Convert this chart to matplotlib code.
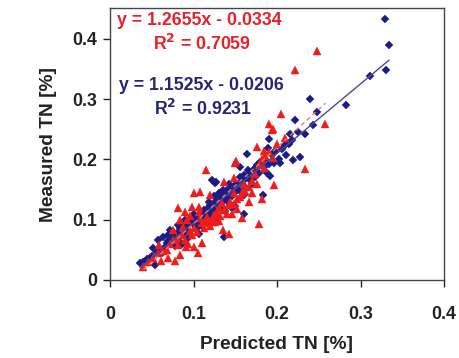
import numpy as np
import matplotlib
matplotlib.use("Agg")
import matplotlib.pyplot as plt

plt.rcParams['font.family'] = ['Liberation Sans', 'DejaVu Sans']
plt.rcParams['font.weight'] = 'bold'

# Calibration set (blue diamonds): predicted vs measured TN
blue_pred = [0.329, 0.334, 0.331, 0.311, 0.283, 0.240, 0.248, 0.243, 0.234, 0.225,
             0.216, 0.222, 0.209, 0.191, 0.189, 0.164, 0.194, 0.211, 0.219, 0.228,
             0.196, 0.204, 0.156, 0.165, 0.188, 0.192, 0.161, 0.170, 0.126, 0.130,
             0.140, 0.160, 0.183, 0.112, 0.120, 0.132, 0.150, 0.160, 0.098, 0.136,
             0.072, 0.084, 0.088, 0.106, 0.064, 0.058, 0.052, 0.048, 0.036, 0.054,
             0.062, 0.068, 0.040, 0.044, 0.050, 0.056, 0.060, 0.066, 0.070, 0.074,
             0.078, 0.080, 0.082, 0.086, 0.090, 0.092, 0.094, 0.096, 0.100, 0.102,
             0.104, 0.106, 0.108, 0.110, 0.112, 0.114, 0.116, 0.118, 0.120, 0.122,
             0.124, 0.126, 0.128, 0.130, 0.132, 0.134, 0.136, 0.138, 0.140, 0.142,
             0.144, 0.146, 0.148, 0.150, 0.152, 0.154, 0.156, 0.158, 0.160, 0.162,
             0.166, 0.168, 0.172, 0.174, 0.176, 0.178, 0.180, 0.184, 0.186, 0.190,
             0.198, 0.202, 0.206, 0.214, 0.218, 0.104, 0.110, 0.118, 0.094, 0.086,
             0.078, 0.100, 0.090, 0.082, 0.076, 0.070, 0.118, 0.124, 0.142, 0.128,
             0.146, 0.138, 0.122, 0.127, 0.135]
blue_meas = [0.432, 0.389, 0.348, 0.338, 0.290, 0.300, 0.278, 0.257, 0.242, 0.245,
             0.242, 0.266, 0.224, 0.234, 0.219, 0.209, 0.207, 0.207, 0.199, 0.204,
             0.194, 0.194, 0.187, 0.182, 0.177, 0.172, 0.174, 0.160, 0.161, 0.144,
             0.149, 0.141, 0.141, 0.116, 0.124, 0.130, 0.122, 0.109, 0.100, 0.071,
             0.083, 0.086, 0.077, 0.077, 0.072, 0.066, 0.053, 0.036, 0.028, 0.025,
             0.044, 0.061, 0.030, 0.034, 0.040, 0.046, 0.052, 0.055, 0.064, 0.068,
             0.072, 0.078, 0.066, 0.092, 0.084, 0.090, 0.080, 0.094, 0.092, 0.104,
             0.098, 0.108, 0.096, 0.104, 0.110, 0.100, 0.118, 0.108, 0.112, 0.120,
             0.128, 0.116, 0.134, 0.124, 0.140, 0.120, 0.132, 0.142, 0.136, 0.128,
             0.150, 0.140, 0.156, 0.146, 0.160, 0.150, 0.170, 0.164, 0.156, 0.168,
             0.176, 0.166, 0.184, 0.170, 0.190, 0.178, 0.196, 0.188, 0.200, 0.192,
             0.214, 0.200, 0.218, 0.226, 0.232, 0.086, 0.090, 0.096, 0.070, 0.060,
             0.056, 0.110, 0.100, 0.092, 0.080, 0.074, 0.130, 0.140, 0.160, 0.102,
             0.120, 0.114, 0.166, 0.162, 0.150]

# Validation set (red triangles)
red_pred = [0.248, 0.221, 0.205, 0.191, 0.195, 0.258, 0.176, 0.194, 0.185, 0.195,
            0.233, 0.151, 0.150, 0.115, 0.184, 0.149, 0.196, 0.136, 0.100, 0.108,
            0.120, 0.148, 0.158, 0.182, 0.081, 0.098, 0.107, 0.142, 0.158, 0.179,
            0.090, 0.092, 0.108, 0.114, 0.118, 0.130, 0.135, 0.142, 0.076, 0.110,
            0.101, 0.105, 0.091, 0.082, 0.084, 0.078, 0.070, 0.068, 0.059, 0.040,
            0.061, 0.046, 0.052, 0.058, 0.064, 0.072, 0.076, 0.080, 0.086, 0.090,
            0.096, 0.100, 0.104, 0.110, 0.112, 0.116, 0.122, 0.124, 0.128, 0.132,
            0.136, 0.140, 0.144, 0.148, 0.152, 0.156, 0.162, 0.166, 0.170, 0.174,
            0.178, 0.182, 0.186, 0.190, 0.200, 0.210, 0.120, 0.126, 0.094, 0.098,
            0.088, 0.084, 0.096, 0.106, 0.134, 0.130, 0.146, 0.152, 0.166, 0.170,
            0.160, 0.176]
red_meas = [0.380, 0.349, 0.276, 0.259, 0.250, 0.259, 0.221, 0.248, 0.214, 0.203,
            0.184, 0.198, 0.194, 0.182, 0.185, 0.169, 0.158, 0.163, 0.144, 0.146,
            0.141, 0.144, 0.144, 0.135, 0.120, 0.121, 0.121, 0.124, 0.102, 0.093,
            0.113, 0.100, 0.102, 0.097, 0.094, 0.097, 0.083, 0.076, 0.083, 0.061,
            0.055, 0.045, 0.054, 0.058, 0.041, 0.032, 0.036, 0.050, 0.058, 0.022,
            0.032, 0.030, 0.036, 0.044, 0.048, 0.060, 0.066, 0.070, 0.074, 0.066,
            0.082, 0.086, 0.080, 0.094, 0.086, 0.104, 0.100, 0.108, 0.112, 0.106,
            0.116, 0.110, 0.130, 0.126, 0.134, 0.138, 0.148, 0.154, 0.164, 0.176,
            0.190, 0.200, 0.206, 0.212, 0.226, 0.236, 0.090, 0.096, 0.060, 0.074,
            0.088, 0.100, 0.106, 0.112, 0.128, 0.120, 0.110, 0.118, 0.130, 0.145,
            0.160, 0.160]

# Fitted trend lines
blue_fit = (1.1525, -0.0206, 0.9231)
red_fit = (1.2655, -0.0334, 0.7059)

x_ticks = [0, 0.1, 0.2, 0.3, 0.4]
y_ticks = [0, 0.1, 0.2, 0.3, 0.4]

BLUE = '#1c1c86'
RED = '#f01c1c'

fig = plt.figure(figsize=(4.59, 3.58), dpi=100)
ax = fig.add_axes([110 / 459, 1 - 280 / 358, 334 / 459, 272 / 358])

ax.plot(blue_pred, blue_meas, linestyle='none', marker='D', markersize=4.2,
        color=BLUE, markeredgewidth=0.3, zorder=3)
ax.plot(red_pred, red_meas, linestyle='none', marker='^', markersize=5.6,
        color=RED, markeredgewidth=0.3, zorder=3)

bx = np.array([min(blue_pred), max(blue_pred)])
ax.plot(bx, blue_fit[0] * bx + blue_fit[1], color='#4a4a9a', lw=1.0, zorder=4)
rx = np.array([min(red_pred), max(red_pred)])
ax.plot(rx, red_fit[0] * rx + red_fit[1], color='#f07a5a', lw=1.0,
        dashes=(3, 2.5), zorder=4)

def fmt_eq(fit):
    sign = '-' if fit[1] < 0 else '+'
    return f"y = {fit[0]:.4f}x {sign} {abs(fit[1]):.4f}"

ax.text(0.0083, 0.430, fmt_eq(red_fit), color='#e8202a', fontsize=12.8,
        fontweight='bold', va='center', ha='left')
ax.text(0.052, 0.391, f"R$^\\mathbf{{2}}$ = {red_fit[2]:.4f}", color='#e8202a',
        fontsize=12.8, fontweight='bold', va='center', ha='left')
ax.text(0.011, 0.322, fmt_eq(blue_fit), color='#262678', fontsize=12.8,
        fontweight='bold', va='center', ha='left')
ax.text(0.053, 0.284, f"R$^\\mathbf{{2}}$ = {blue_fit[2]:.4f}", color='#262678',
        fontsize=12.8, fontweight='bold', va='center', ha='left')

ax.set_xlim(0, 0.4)
ax.set_ylim(0, 0.451)
ax.set_xticks(x_ticks)
ax.set_yticks(y_ticks)
ax.set_xticklabels(['0' if v == 0 else f"{v:.1f}" for v in x_ticks])
ax.set_yticklabels(['0' if v == 0 else f"{v:.1f}" for v in y_ticks])
ax.tick_params(axis='x', direction='out', length=5, width=1, pad=14,
               labelsize=12.8, colors='#222222')
ax.tick_params(axis='y', direction='out', length=5, width=1, pad=4,
               labelsize=12.8, colors='#222222')
for lbl in ax.get_xticklabels() + ax.get_yticklabels():
    lbl.set_fontweight('bold')
for s in ax.spines.values():
    s.set_color('#444444')
    s.set_linewidth(1.0)

ax.set_xlabel('Predicted TN [%]', fontsize=13.8, fontweight='bold',
              color='#222222', labelpad=9)
ax.set_ylabel('Measured TN [%]', fontsize=13.8, fontweight='bold',
              color='#222222', labelpad=11)

fig.savefig('out.png', dpi=100)
